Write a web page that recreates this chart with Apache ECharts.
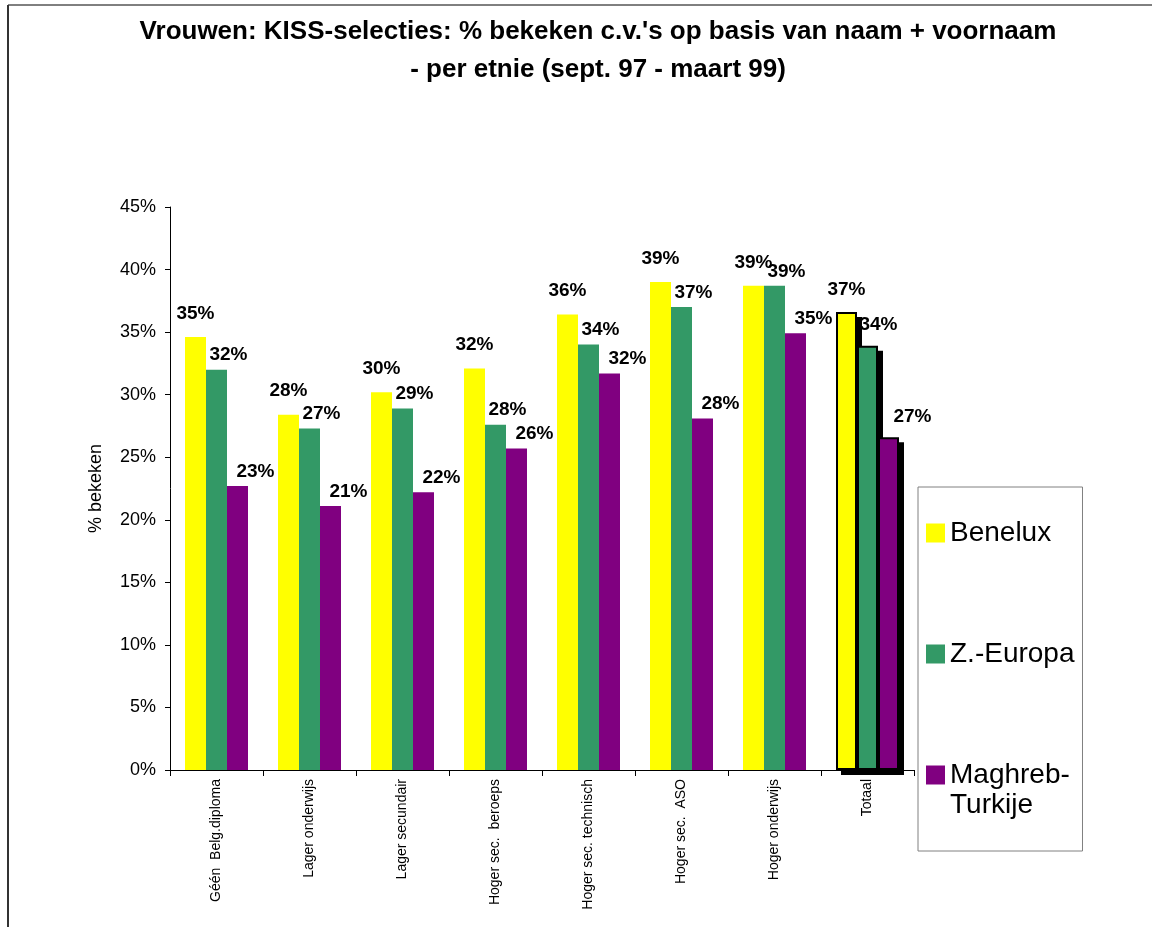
<!DOCTYPE html>
<html>
<head>
<meta charset="utf-8">
<title>KISS-selecties vrouwen</title>
<script src="https://cdn.jsdelivr.net/npm/echarts@6/dist/echarts.min.js"></script>
<style>
  html, body { margin: 0; padding: 0; background: #fff; }
  #chart { width: 1161px; height: 927px; }
</style>
</head>
<body>
<div id="chart"></div>
<script>
// categorieën (opleidingsniveau)
const categories = [
  'Géén  Belg.diploma',
  'Lager onderwijs',
  'Lager secundair',
  'Hoger sec.  beroeps',
  'Hoger sec. technisch',
  'Hoger sec.  ASO',
  'Hoger onderwijs',
  'Totaal'
]

// % bekeken per etnie
const benelux = [34.6, 28.4, 30.2, 32.1, 36.4, 39.0, 38.7, 36.6]
const zEuropa = [32.0, 27.3, 28.9, 27.6, 34.0, 37.0, 38.7, 33.9]
const maghreb = [22.7, 21.1, 22.2, 25.7, 31.7, 28.1, 34.9, 26.6]

const yTicks = [0, 5, 10, 15, 20, 25, 30, 35, 40, 45]

const font = "'Liberation Sans', Arial, sans-serif"
const totaalIndex = categories.indexOf('Totaal')
const BAR_W = 21

// series-opmaak
const seriesDefs = [
  { name: 'Benelux', values: benelux, color: '#ffff00', labelOffset: [0, 0], distance: 14, totaalLabel: { offset: [0, 0], distance: 13 } },
  { name: 'Z.-Europa', values: zEuropa, color: '#339966', labelOffset: [12, 0], distance: 5, totaalLabel: { offset: [11, 0], distance: 12 } },
  { name: 'Maghreb-Turkije', values: maghreb, color: '#800080', labelOffset: [18, 0], distance: 5, totaalLabel: { offset: [24, 0], distance: 11 } }
]

// legendatekst: icoon op de eerste regel uitlijnen
const legendText = {
  'Benelux': '\nBenelux\n',
  'Z.-Europa': '\nZ.-Europa\n',
  'Maghreb-Turkije': '\nMaghreb-\nTurkije'
}

const chart = echarts.init(document.getElementById('chart'))

const series = seriesDefs.map(def => ({
  name: def.name,
  type: 'bar',
  z: 2,
  barWidth: BAR_W,
  barGap: '0%',
  itemStyle: { color: def.color },
  label: {
    show: true,
    position: 'top',
    distance: def.distance,
    offset: def.labelOffset,
    color: '#000',
    fontFamily: font,
    fontWeight: 'bold',
    fontSize: 19,
    formatter: p => Math.round(p.value) + '%'
  },
  data: def.values.map((v, i) => {
    if (i !== totaalIndex) return v
    // Totaal-kolom: zwarte rand
    return {
      value: v,
      itemStyle: { color: def.color, borderColor: '#000', borderWidth: 2 },
      label: def.totaalLabel
    }
  })
}))

// schaduw achter de Totaal-kolom
series.push({
  type: 'custom',
  z: 1,
  silent: true,
  encode: { x: 0, y: 1 },
  data: seriesDefs.map((def, k) => [totaalIndex, def.values[totaalIndex], k]),
  renderItem: (params, api) => {
    const top = api.coord([api.value(0), api.value(1)])
    const base = api.coord([api.value(0), 0])
    const k = api.value(2)
    const left = top[0] - BAR_W * seriesDefs.length / 2 + BAR_W * k
    return {
      type: 'rect',
      shape: { x: left + 5, y: top[1] + 5, width: BAR_W, height: base[1] - top[1] },
      style: { fill: '#000' }
    }
  }
})

const option = {
  backgroundColor: '#fff',
  animation: false,
  textStyle: { fontFamily: font },
  title: {
    text: "Vrouwen: KISS-selecties: % bekeken c.v.'s op basis van naam + voornaam\n- per etnie (sept. 97 - maart 99)",
    left: 598,
    top: 13,
    padding: 0,
    textAlign: 'center',
    textStyle: {
      fontFamily: font,
      fontWeight: 'bold',
      fontSize: 26,
      lineHeight: 38,
      color: '#000'
    }
  },
  legend: {
    orient: 'vertical',
    left: 918,
    top: 487,
    padding: [1, 8, 31, 8],
    itemGap: 31,
    itemWidth: 19,
    itemHeight: 19,
    backgroundColor: '#fff',
    borderColor: '#808080',
    borderWidth: 1,
    borderRadius: 0,
    icon: 'rect',
    formatter: name => legendText[name],
    textStyle: { fontFamily: font, fontSize: 28, lineHeight: 30, color: '#000' },
    data: seriesDefs.map(d => d.name)
  },
  grid: { left: 170, right: 247, top: 207, bottom: 157 },
  xAxis: {
    type: 'category',
    data: categories,
    axisLine: { lineStyle: { color: '#000', width: 1 } },
    axisTick: { show: true, length: 6, lineStyle: { color: '#000' } },
    axisLabel: {
      interval: 0,
      rotate: 90,
      margin: 9,
      fontFamily: font,
      fontSize: 14,
      color: '#000'
    }
  },
  yAxis: {
    type: 'value',
    min: yTicks[0],
    max: yTicks[yTicks.length - 1],
    interval: 5,
    name: '% bekeken',
    nameLocation: 'middle',
    nameGap: 65,
    nameTextStyle: { fontFamily: font, fontSize: 18, color: '#000' },
    axisLine: { show: true, lineStyle: { color: '#000', width: 1 } },
    axisTick: { show: true, length: 5, lineStyle: { color: '#000' } },
    splitLine: { show: false },
    axisLabel: {
      margin: 14,
      fontFamily: font,
      fontSize: 18,
      color: '#000',
      formatter: v => v + '%'
    }
  },
  graphic: [
    // kader rond de grafiek
    { type: 'line', shape: { x1: 8, y1: 5, x2: 1152, y2: 5 }, style: { stroke: '#000', lineWidth: 1 } },
    { type: 'line', shape: { x1: 8, y1: 5, x2: 8, y2: 927 }, style: { stroke: '#333', lineWidth: 2 } }
  ],
  series: series
}

chart.setOption(option)
</script>
</body>
</html>
